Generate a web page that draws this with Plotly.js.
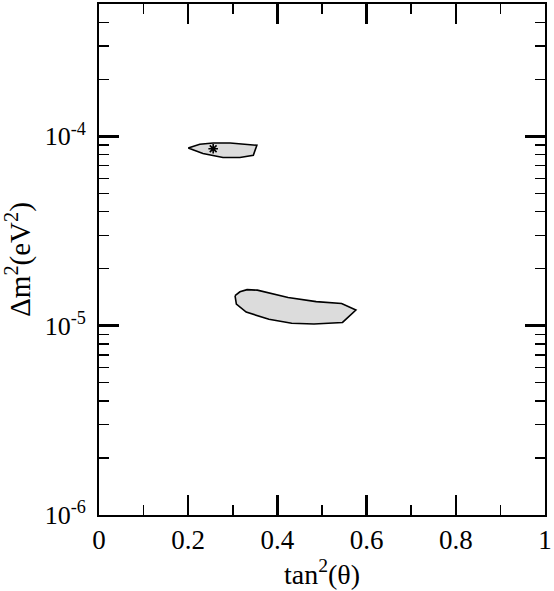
<!DOCTYPE html>
<html>
<head>
<meta charset="utf-8">
<script src="https://cdn.plot.ly/plotly-3.0.1.min.js"></script>
<style>html,body{margin:0;padding:0;background:#fff;}#chart{width:554px;height:591px;}</style>
</head>
<body>
<div id="chart"></div>
<script>
// Allowed region near 1e-4 (upper island)
var upperX = [0.200, 0.226, 0.256, 0.294, 0.354, 0.346, 0.316, 0.278, 0.233, 0.200];
var upperY = [8.67e-5, 9.08e-5, 9.23e-5, 9.23e-5, 8.97e-5, 7.94e-5, 7.73e-5, 7.73e-5, 8.11e-5, 8.67e-5];
// Allowed region near 1e-5 (lower island)
var lowerX = [0.305, 0.316, 0.332, 0.355, 0.424, 0.487, 0.544, 0.576, 0.546, 0.482, 0.432, 0.381, 0.330, 0.308, 0.305];
var lowerY = [1.44e-5, 1.51e-5, 1.55e-5, 1.54e-5, 1.41e-5, 1.34e-5, 1.31e-5, 1.21e-5, 1.04e-5, 1.02e-5, 1.03e-5, 1.08e-5, 1.18e-5, 1.30e-5, 1.44e-5];
// Best-fit point
var bestX = [0.256];
var bestY = [8.6e-5];
// Tick labels
var yTickVals = [1e-6, 1e-5, 1e-4];
var yTickText = ['10<sup>-6</sup>', '10<sup>-5</sup>', '10<sup>-4</sup>'];
var xTickVals = [0, 0.2, 0.4, 0.6, 0.8, 1];
var xTickText = ['0', '0.2', '0.4', '0.6', '0.8', '1'];

var yMinor = [];
[-6, -5, -4].forEach(function (e) {
  for (var m = 2; m <= 9; m++) yMinor.push(m * Math.pow(10, e));
});

var FAM = 'Liberation Serif';
function f(sz) { return {family: FAM, size: sz, color: '#000'}; }

var traces = [
  {x: upperX, y: upperY, type: 'scatter', mode: 'lines', fill: 'toself',
   fillcolor: '#dcdcdc', line: {color: '#000', width: 1.6}, hoverinfo: 'skip'},
  {x: lowerX, y: lowerY, type: 'scatter', mode: 'lines', fill: 'toself',
   fillcolor: '#dcdcdc', line: {color: '#000', width: 1.6}, hoverinfo: 'skip'},
  {x: bestX, y: bestY, type: 'scatter', mode: 'markers',
   marker: {symbol: 'asterisk', size: 8, color: '#000', line: {color: '#000', width: 1.6}}}
];

var layout = {
  width: 554, height: 591,
  margin: {l: 99, r: 9, t: 4, b: 76},
  paper_bgcolor: '#fff', plot_bgcolor: '#fff',
  showlegend: false,
  font: f(26),
  xaxis: {
    range: [0, 1], type: 'linear',
    tickmode: 'array', tickvals: xTickVals, ticktext: xTickText,
    ticks: 'inside', ticklen: 20, tickwidth: 2.5, tickcolor: '#000',
    minor: {dtick: 0.1, ticks: 'inside', ticklen: 10, tickwidth: 1.5, tickcolor: '#000', showgrid: false},
    showline: true, linecolor: '#000', linewidth: 2, mirror: 'ticks',
    showgrid: false, zeroline: false,
    tickfont: f(27),
    title: {text: 'tan<sup>2</sup>(θ)', font: f(28), standoff: 4}
  },
  yaxis: {
    type: 'log', range: [-6, Math.log10(5e-4)],
    tickmode: 'array', tickvals: yTickVals, ticktext: yTickText,
    ticks: 'inside', ticklen: 20, tickwidth: 3, tickcolor: '#000',
    minor: {tickmode: 'array', tickvals: yMinor, ticks: 'inside', ticklen: 10, tickwidth: 1.5, tickcolor: '#000', showgrid: false},
    showline: true, linecolor: '#000', linewidth: 2, mirror: 'ticks',
    showgrid: false, zeroline: false,
    ticklabelstandoff: 6,
    tickfont: f(26),
    title: {text: 'Δm<sup>2</sup>(eV<sup>2</sup>)', font: f(29), standoff: 6}
  }
};

Plotly.newPlot('chart', traces, layout, {displayModeBar: false, staticPlot: true});
</script>
</body>
</html>
